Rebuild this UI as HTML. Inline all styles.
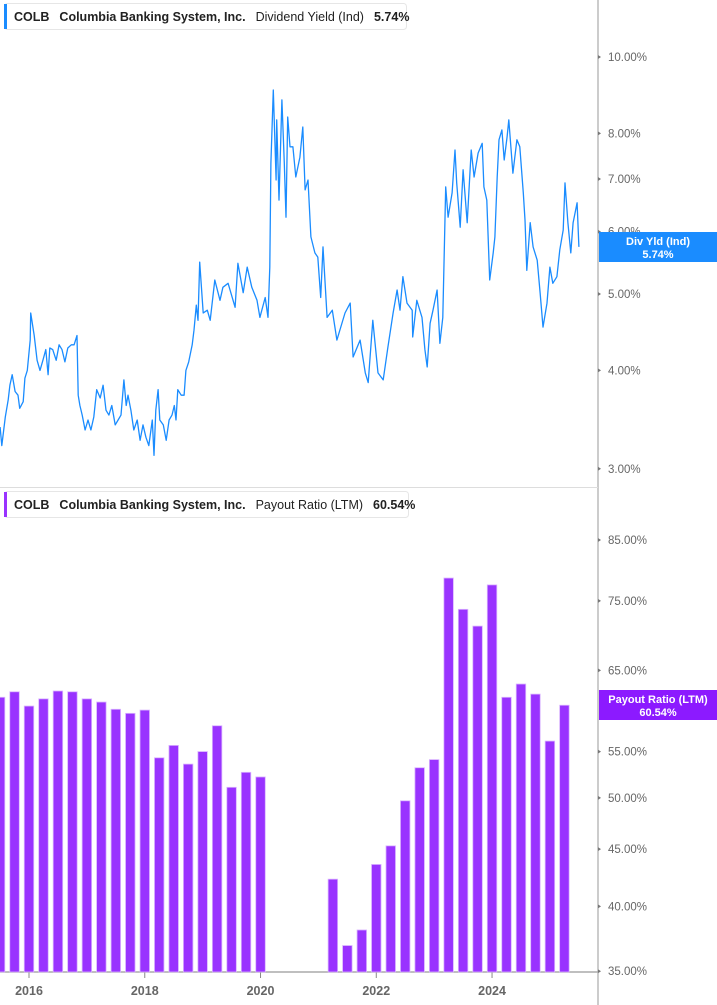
<!DOCTYPE html>
<html><head><meta charset="utf-8"><style>
body{margin:0;background:#fff;font-family:"Liberation Sans",sans-serif}
svg{display:block}
</style></head><body>
<svg id="c" width="717" height="1005" xmlns="http://www.w3.org/2000/svg"></svg>
<script>
const yieldDates=[2015.50,2015.53,2015.59,2015.64,2015.67,2015.71,2015.76,2015.81,2015.84,2015.90,2015.93,2015.97,2016.02,2016.03,2016.09,2016.14,2016.19,2016.24,2016.29,2016.33,2016.36,2016.41,2016.47,2016.52,2016.57,2016.62,2016.67,2016.73,2016.78,2016.83,2016.85,2016.88,2016.92,2016.97,2017.02,2017.07,2017.12,2017.17,2017.23,2017.28,2017.33,2017.38,2017.43,2017.49,2017.54,2017.59,2017.64,2017.68,2017.71,2017.76,2017.81,2017.87,2017.92,2017.97,2018.02,2018.07,2018.13,2018.16,2018.19,2018.23,2018.26,2018.32,2018.37,2018.42,2018.47,2018.51,2018.54,2018.57,2018.63,2018.68,2018.71,2018.76,2018.82,2018.85,2018.89,2018.92,2018.95,2019.01,2019.08,2019.13,2019.21,2019.30,2019.35,2019.44,2019.56,2019.61,2019.70,2019.77,2019.85,2019.94,2019.99,2020.08,2020.13,2020.16,2020.18,2020.22,2020.27,2020.28,2020.32,2020.37,2020.41,2020.44,2020.47,2020.51,2020.56,2020.61,2020.68,2020.73,2020.77,2020.82,2020.87,2020.94,2020.99,2021.04,2021.08,2021.15,2021.24,2021.32,2021.46,2021.55,2021.60,2021.72,2021.81,2021.86,2021.94,2022.03,2022.12,2022.20,2022.29,2022.36,2022.41,2022.46,2022.53,2022.62,2022.63,2022.70,2022.79,2022.84,2022.88,2022.93,2022.98,2023.05,2023.10,2023.15,2023.20,2023.24,2023.31,2023.36,2023.39,2023.45,2023.50,2023.57,2023.64,2023.69,2023.76,2023.83,2023.86,2023.91,2023.96,2024.02,2024.05,2024.09,2024.12,2024.17,2024.21,2024.26,2024.29,2024.36,2024.43,2024.48,2024.54,2024.57,2024.60,2024.66,2024.71,2024.78,2024.83,2024.88,2024.95,2025.00,2025.05,2025.12,2025.17,2025.23,2025.26,2025.31,2025.36,2025.40,2025.47,2025.50];
const yieldValues=[3.39,3.21,3.49,3.67,3.83,3.95,3.76,3.72,3.58,3.65,3.91,4.00,4.37,4.73,4.43,4.12,4.00,4.12,4.25,3.95,4.27,4.25,4.12,4.31,4.25,4.10,4.27,4.31,4.31,4.43,3.72,3.61,3.51,3.36,3.46,3.36,3.49,3.78,3.69,3.83,3.56,3.51,3.61,3.41,3.46,3.51,3.89,3.61,3.72,3.56,3.36,3.46,3.26,3.41,3.29,3.21,3.46,3.12,3.56,3.78,3.46,3.41,3.26,3.46,3.51,3.61,3.46,3.78,3.72,3.72,4.00,4.10,4.31,4.50,4.84,4.63,5.49,4.73,4.77,4.63,5.21,4.91,5.10,5.16,4.81,5.47,5.02,5.41,5.10,4.91,4.67,4.95,4.67,5.41,7.33,9.08,6.98,8.32,6.58,8.82,7.33,6.26,8.39,7.69,7.69,7.04,7.46,8.15,6.78,6.98,5.91,5.64,5.57,4.95,5.74,4.67,4.77,4.37,4.73,4.87,4.16,4.37,3.97,3.86,4.63,3.97,3.89,4.28,4.73,5.06,4.77,5.26,4.87,4.77,4.41,4.91,4.67,4.25,4.04,4.59,4.77,5.06,4.33,4.67,6.84,6.26,6.72,7.62,6.92,6.08,7.19,6.16,7.62,7.04,7.55,7.77,6.84,6.58,5.21,5.64,5.91,7.04,7.85,8.08,7.40,7.92,8.32,7.12,7.85,7.69,6.72,6.21,5.36,6.16,5.74,5.52,5.02,4.54,4.87,5.41,5.16,5.26,5.69,6.03,6.92,6.16,5.64,6.16,6.53,5.74];
const quarters=["2015Q2","2015Q3","2015Q4","2016Q1","2016Q2","2016Q3","2016Q4","2017Q1","2017Q2","2017Q3","2017Q4","2018Q1","2018Q2","2018Q3","2018Q4","2019Q1","2019Q2","2019Q3","2019Q4","2020Q1","2020Q2","2020Q3","2020Q4","2021Q1","2021Q2","2021Q3","2021Q4","2022Q1","2022Q2","2022Q3","2022Q4","2023Q1","2023Q2","2023Q3","2023Q4","2024Q1","2024Q2","2024Q3","2024Q4","2025Q1"];
const payoutValues=[61.5,62.2,60.4,61.3,62.3,62.2,61.3,60.9,60.0,59.5,59.9,54.3,55.7,53.6,55.0,58.0,51.1,52.7,52.2,null,null,null,null,42.3,36.9,38.1,43.6,45.3,49.7,53.2,54.1,78.6,73.7,71.2,77.5,61.5,63.2,61.9,56.2,60.5];
const yieldTicks=[10,8,7,6,5,4,3];
const payoutTicks=[85,75,65,55,50,45,40,35];
const yearTicks=[2016,2018,2020,2022,2024];

const NS="http://www.w3.org/2000/svg";
const svg=document.getElementById('c');
function mk(tag,attrs,parent){const e=document.createElementNS(NS,tag);for(const k in attrs)e.setAttribute(k,attrs[k]);(parent||svg).appendChild(e);return e;}
const xS=t=>29+(t-2016)*57.88;
const yTop=v=>57+342*Math.log(10/v);
const yBot=v=>540+486*Math.log(85/v);
const AX=598;

// panel frames
let e=mk('line',{x1:AX,y1:0,x2:AX,y2:1005,stroke:'#999','stroke-width':1});


e=mk('line',{x1:0,y1:487.5,x2:AX,y2:487.5,stroke:'#ddd','stroke-width':1});


e=mk('line',{x1:0,y1:972,x2:AX,y2:972,stroke:'#aaa','stroke-width':1.5});



// top ticks
yieldTicks.forEach(v=>{const y=yTop(v);
 const t=mk('path',{d:`M${AX} ${y-2}L${AX+3} ${y}L${AX} ${y+2}Z`,fill:'#777'});
 
 
 const l=mk('text',{x:608,y:y+4,'font-size':11.5,fill:'#666'});l.textContent=v.toFixed(2)+'%';
 
 
});
payoutTicks.forEach(v=>{const y=yBot(v);
 const t=mk('path',{d:`M${AX} ${y-2}L${AX+3} ${y}L${AX} ${y+2}Z`,fill:'#777'});
 
 
 const l=mk('text',{x:608,y:y+4,'font-size':11.5,fill:'#666'});l.textContent=v.toFixed(2)+'%';
 
 
});
yearTicks.forEach(yr=>{const x=xS(yr);
 const t=mk('line',{x1:x,y1:972,x2:x,y2:978,stroke:'#888'});
 
 
 const l=mk('text',{x:x,y:995,'font-size':12.5,'font-weight':'bold',fill:'#666','text-anchor':'middle'});l.textContent=yr;
 
 
});

// bars
quarters.forEach((q,i)=>{const v=payoutValues[i];if(v==null)return;
 const yr=+q.slice(0,4),qq=+q.slice(5);const t=yr+qq*0.25-0.25+0.25;
 const cx=xS(yr+(qq-1)*0.25+0.25)-0; const y=yBot(v);
 const b=mk('rect',{x:cx-4.75,y:y,width:9.5,height:972-y,fill:'#9933ff',stroke:'#d9b3ff','stroke-width':0.8});
 
 
});

// line
let d='';yieldDates.forEach((t,i)=>{d+=(i?'L':'M')+xS(t).toFixed(1)+' '+yTop(yieldValues[i]).toFixed(1);});
const ln=mk('path',{d:d,fill:'none',stroke:'#1a8cff','stroke-width':1.3,'stroke-linejoin':'round'});



// value badges
function badge(y,color,l1,l2,name){const g=mk('g',{});
 
 
 mk('rect',{x:AX+1,y:y-15,width:120,height:30,fill:color},g);
 const a=mk('text',{x:658,y:y-2,'font-size':11,'font-weight':'bold',fill:'#fff','text-anchor':'middle'},g);a.textContent=l1;
 const b=mk('text',{x:658,y:y+11,'font-size':11,'font-weight':'bold',fill:'#fff','text-anchor':'middle'},g);b.textContent=l2;}
badge(247,'#1a8cff','Div Yld (Ind)','5.74%','yield-value-badge');
badge(705,'#8c1aff','Payout Ratio (LTM)','60.54%','payout-value-badge');

// legends
function legend(y,w,color,txt,val,name){const g=mk('g',{});
 
 
 mk('rect',{x:4.5,y:y+0.5,width:w,height:26,rx:3,fill:'#fff',stroke:'#e6e6e6'},g);
 mk('rect',{x:4,y:y+1,width:3,height:25,fill:color},g);
 const t=mk('text',{x:14,y:y+18,'font-size':12.5,'font-weight':'bold',fill:'#222'},g);
 t.innerHTML=`COLB<tspan dx="10">Columbia Banking System, Inc.</tspan><tspan dx="10" font-weight="normal" fill="#222">${txt}</tspan><tspan dx="10">${val}</tspan>`;
}
legend(3,402,'#1a8cff','Dividend Yield (Ind)','5.74%','yield-legend');
legend(491,404,'#9933ff','Payout Ratio (LTM)','60.54%','payout-legend');
</script>
</body></html>
